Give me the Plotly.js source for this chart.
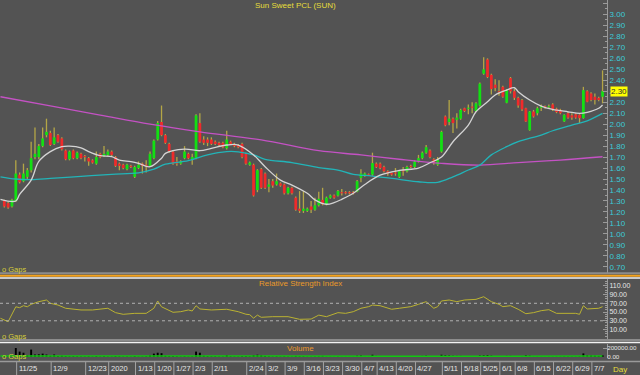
<!DOCTYPE html>
<html><head><meta charset="utf-8">
<script src="https://cdn.plot.ly/plotly-3.0.1.min.js"></script>
<style>html,body{margin:0;padding:0;background:#535353;overflow:hidden}#chart{width:640px;height:375px}</style>
</head><body><div id="chart"></div>
<script>
// ---- price data (one candle per trading day, index 0 = 19 Nov 2019) ----
const openP = [
1.30,1.28,1.25,1.30,1.54,1.48,1.52,1.58,1.70,1.70,
1.80,1.90,1.92,1.82,1.90,1.87,1.76,1.68,1.76,1.69,
1.73,1.71,1.69,1.67,1.64,1.73,1.71,1.72,1.75,1.70,
1.64,1.63,1.59,1.62,1.52,1.60,1.64,1.63,1.62,1.69,
1.86,2.02,1.90,1.82,1.75,1.66,1.64,1.69,1.73,1.68,
1.69,2.01,1.86,1.86,1.86,1.84,1.83,1.83,1.78,1.84,
1.82,1.81,1.82,1.73,1.63,1.63,1.40,1.59,1.55,1.43,
1.48,1.45,1.46,1.45,1.37,1.42,1.33,1.23,1.21,1.21,
1.25,1.22,1.26,1.31,1.27,1.33,1.35,1.35,1.38,1.38,
1.38,1.38,1.385,1.51,1.53,1.54,1.54,1.64,1.64,1.61,
1.57,1.555,1.56,1.52,1.58,1.57,1.62,1.61,1.66,1.69,
1.74,1.76,1.68,1.63,1.75,2.07,2.02,2.05,2.04,2.05,
2.145,2.14,2.16,2.12,2.17,2.46,2.59,2.45,2.36,2.30,
2.34,2.195,2.42,2.30,2.24,2.22,2.145,1.945,2.115,2.10,
2.15,2.16,2.155,2.18,2.14,2.13,2.025,2.10,2.08,2.09,
2.085,2.055,2.30,2.28,2.25,2.24,2.25];
const highP = [
1.31,1.29,1.32,1.67,1.56,1.64,1.60,1.84,1.97,1.82,
1.97,2.05,1.94,1.97,1.91,1.88,1.77,1.76,1.77,1.75,
1.74,1.72,1.70,1.68,1.75,1.74,1.80,1.77,1.76,1.71,
1.65,1.64,1.64,1.63,1.62,1.66,1.65,1.67,1.75,1.86,
2.03,2.17,1.91,1.83,1.76,1.70,1.67,1.80,1.74,1.73,
2.09,2.10,1.89,1.88,1.88,1.85,1.84,1.84,1.94,1.85,
1.83,1.82,1.83,1.74,1.66,1.64,1.59,1.60,1.56,1.50,
1.50,1.55,1.47,1.46,1.43,1.43,1.34,1.39,1.39,1.24,
1.30,1.33,1.385,1.42,1.34,1.36,1.36,1.40,1.41,1.39,
1.39,1.39,1.49,1.59,1.56,1.55,1.74,1.65,1.65,1.62,
1.58,1.56,1.60,1.58,1.61,1.62,1.63,1.67,1.72,1.75,
1.81,1.77,1.69,1.70,1.94,2.08,2.22,2.06,2.10,2.14,
2.15,2.18,2.20,2.20,2.38,2.61,2.60,2.46,2.41,2.40,
2.35,2.32,2.43,2.32,2.25,2.23,2.15,2.12,2.13,2.16,
2.18,2.17,2.18,2.19,2.15,2.14,2.09,2.11,2.10,2.10,
2.09,2.34,2.31,2.29,2.28,2.25,2.49];
const lowP = [
1.24,1.23,1.24,1.29,1.46,1.47,1.50,1.56,1.68,1.68,
1.79,1.88,1.80,1.81,1.83,1.76,1.67,1.67,1.68,1.68,
1.68,1.66,1.62,1.64,1.63,1.69,1.70,1.71,1.71,1.61,
1.58,1.59,1.58,1.60,1.51,1.59,1.55,1.56,1.61,1.68,
1.85,1.89,1.82,1.74,1.63,1.62,1.63,1.68,1.68,1.63,
1.68,1.83,1.81,1.80,1.81,1.81,1.80,1.78,1.77,1.81,
1.79,1.78,1.69,1.63,1.62,1.34,1.38,1.41,1.41,1.38,
1.42,1.44,1.43,1.36,1.36,1.36,1.21,1.19,1.19,1.20,
1.19,1.21,1.25,1.26,1.26,1.32,1.32,1.34,1.35,1.36,
1.36,1.36,1.38,1.47,1.52,1.53,1.53,1.60,1.59,1.56,
1.53,1.53,1.53,1.51,1.53,1.56,1.60,1.60,1.65,1.68,
1.73,1.69,1.63,1.62,1.74,1.98,1.99,1.92,1.96,2.04,
2.11,2.09,2.10,2.11,2.16,2.45,2.42,2.27,2.30,2.26,
2.24,2.19,2.28,2.22,2.15,2.12,2.02,1.94,2.06,2.08,
2.12,2.14,2.14,2.12,2.10,2.09,2.02,2.05,2.04,2.05,
2.01,2.05,2.20,2.21,2.18,2.21,2.19];
const closeP = [
1.25,1.24,1.31,1.55,1.47,1.55,1.58,1.69,1.73,1.80,
1.87,1.93,1.81,1.88,1.84,1.77,1.68,1.75,1.69,1.74,
1.69,1.70,1.66,1.65,1.70,1.70,1.73,1.75,1.72,1.62,
1.62,1.60,1.63,1.61,1.61,1.63,1.62,1.62,1.73,1.85,
2.01,1.90,1.83,1.75,1.64,1.64,1.66,1.75,1.69,1.70,
2.08,1.84,1.83,1.83,1.82,1.82,1.81,1.79,1.86,1.82,
1.80,1.79,1.70,1.64,1.65,1.35,1.58,1.42,1.42,1.45,
1.44,1.48,1.44,1.37,1.42,1.37,1.22,1.21,1.23,1.23,
1.22,1.26,1.32,1.27,1.33,1.35,1.33,1.39,1.37,1.37,
1.37,1.37,1.48,1.55,1.55,1.535,1.645,1.61,1.60,1.57,
1.55,1.54,1.55,1.57,1.57,1.61,1.61,1.66,1.69,1.74,
1.79,1.70,1.65,1.68,1.93,1.99,2.05,2.01,2.06,2.13,
2.12,2.15,2.15,2.19,2.37,2.50,2.43,2.32,2.33,2.29,
2.25,2.31,2.30,2.24,2.17,2.135,2.025,2.115,2.07,2.145,
2.165,2.155,2.16,2.13,2.11,2.10,2.085,2.06,2.06,2.06,
2.055,2.31,2.205,2.22,2.22,2.22,2.30];
const volume = [
20000,15000,25000,200000,120000,95000,40000,165000,55000,60000,
75000,55000,30000,55000,25000,30000,20000,15000,20000,15000,
10000,10000,15000,10000,20000,10000,15000,10000,10000,20000,
15000,10000,10000,8000,20000,10000,10000,15000,40000,75000,
95000,85000,30000,20000,25000,15000,10000,15000,10000,15000,
120000,95000,30000,20000,15000,15000,10000,10000,45000,15000,
10000,10000,20000,20000,15000,45000,50000,40000,25000,15000,
10000,15000,10000,15000,10000,10000,25000,20000,20000,10000,
10000,15000,20000,25000,10000,10000,8000,15000,10000,8000,
8000,8000,30000,35000,15000,10000,50000,25000,15000,15000,
10000,10000,15000,15000,10000,15000,10000,20000,15000,25000,
30000,20000,15000,15000,50000,40000,35000,30000,25000,25000,
15000,15000,20000,20000,35000,40000,45000,30000,20000,20000,
20000,25000,25000,15000,15000,20000,40000,30000,15000,15000,
10000,8000,8000,10000,10000,10000,15000,10000,10000,8000,
15000,80000,40000,35000,30000,25000,40000];

// ---- moving averages / indicator lines (day index, value) ----
const ma10Idx = [-1,3,4,7,9,12,15,17,20,22,25,28,30,33,35,38,41,42,47,51,54,58,61,65,68,72,75,79,81,84,86,88,91,94,98,103,108,111,114,117,121,123,126,128,131,133,134,137,140,143,147,150,152,155,156];
const ma10Val = [1.315,1.30,1.36,1.49,1.66,1.75,1.795,1.80,1.785,1.75,1.713,1.704,1.673,1.658,1.643,1.612,1.69,1.734,1.773,1.758,1.78,1.81,1.81,1.72,1.612,1.49,1.445,1.37,1.31,1.27,1.285,1.315,1.37,1.45,1.535,1.578,1.60,1.648,1.70,1.84,1.992,2.113,2.205,2.266,2.311,2.332,2.296,2.22,2.165,2.135,2.113,2.098,2.108,2.145,2.175];
const ma50Idx = [-1,3,7,12,20,28,35,39,42,48,53,58,61,65,68,75,82,87,91,96,103,108,113,117,121,124,127,131,134,140,143,148,152,156];
const ma50Val = [1.52,1.50,1.495,1.505,1.525,1.543,1.556,1.59,1.635,1.667,1.72,1.75,1.748,1.72,1.68,1.65,1.603,1.582,1.543,1.527,1.497,1.475,1.47,1.52,1.582,1.627,1.72,1.795,1.84,1.901,1.94,1.992,2.031,2.098];
const ma200Idx = [-1,12,25,38,51,67,82,93,103,114,124,134,145,156];
const ma200Val = [2.25,2.166,2.083,2.00,1.93,1.856,1.758,1.72,1.68,1.643,1.627,1.65,1.673,1.703];
const rsiIdx = [-1,1,3,4,5,6,7,9,11,12,14,16,20,23,27,29,31,34,37,39,40,41,44,46,48,49,50,51,54,58,61,63,64,65,66,67,70,74,77,80,82,84,87,89,91,93,95,96,98,101,103,106,108,110,112,113,114,116,118,120,123,125,127,129,130,132,134,136,138,140,142,144,149,150,151,152,155,156];
const rsiVal = [35.7,28,62,60,64.5,62,67.7,73.7,77.5,70,66,58.6,54.7,54.7,58.6,48.6,44.8,47,47,58.6,75.3,62,49.4,50.8,54.7,52.4,64.5,57,54.7,56.3,50.8,45,44,36,43,38,39.4,39.4,33.4,34,43,39.4,48.6,47,50.8,58.6,62.3,66,64.5,56.3,58.6,62.3,67.7,73.7,58.6,62.3,75.3,77.5,73.7,77.5,79,85,73.7,67.7,62.3,64.5,56.3,46.2,48.6,53.1,55.4,47,47,44.8,64.5,57,58.6,62.3];
const volMaIdx = [-1,20,45,70,100,130,156];
const volMaVal = [25000,28000,25000,20000,15000,18000,20000];

// ---- axis labels ----
const priceTicks = [0.70,0.80,0.90,1.00,1.10,1.20,1.30,1.40,1.50,1.60,1.70,1.80,1.90,2.00,2.10,2.20,2.30,2.40,2.50,2.60,2.70,2.80,2.90,3.00,3.10];
const rsiTicks = [10,30,50,70,90,110];
const volTicks = [0,200000];
const tickLabels = ['11/25','12/9','12/23','2020','1/13','1/20','1/27','2/3','2/11','2/24','3/2','3/9','3/16','3/23','3/30','4/7','4/13','4/20','4/27','5/11','5/18','5/25','6/1','6/8','6/15','6/22','6/29','7/7'];
const tickIdx = [4,13,22,28,35,40,45,50,55,64,69,74,79,84,89,94,98,103,108,115,120,125,130,134,139,144,149,154];

// ---- build ----
const W = 640, H = 375;
const px = v => v / W, py = v => 1 - v / H;
const FONT = "'Liberation Sans', Arial, sans-serif";
const idx = openP.map((_, i) => i);
const wickLen = idx.map(i => highP[i] - lowP[i]);
const bodyBase = idx.map(i => Math.min(openP[i], closeP[i]));
const bodyLen = idx.map(i => Math.max(Math.abs(closeP[i] - openP[i]), 0.008));
const bodyCol = idx.map(i => closeP[i] > openP[i] ? '#12e012' : (closeP[i] < openP[i] ? '#f02a2a' : '#b8aa48'));

const traces = [
  {type:'bar', x:idx, y:wickLen, base:lowP, width:0.34, marker:{color:'#b4a646', line:{width:0}}, xaxis:'x', yaxis:'y', hoverinfo:'skip'},
  {type:'bar', x:idx, y:bodyLen, base:bodyBase, width:0.72, marker:{color:bodyCol, line:{width:0}}, xaxis:'x', yaxis:'y', hoverinfo:'skip'},
  {type:'scatter', mode:'lines', x:ma200Idx, y:ma200Val, line:{color:'#c452c4', width:1.3, shape:'spline'}, xaxis:'x', yaxis:'y'},
  {type:'scatter', mode:'lines', x:ma50Idx, y:ma50Val, line:{color:'#22b4b8', width:1.3, shape:'spline'}, xaxis:'x', yaxis:'y'},
  {type:'scatter', mode:'lines', x:ma10Idx, y:ma10Val, line:{color:'#d4d4d4', width:1.3, shape:'spline'}, xaxis:'x', yaxis:'y'},
  {type:'scatter', mode:'lines', x:rsiIdx, y:rsiVal, line:{color:'#bab232', width:1}, xaxis:'x', yaxis:'y2'},
  {type:'bar', x:idx, y:volume, width:0.5, marker:{color:'#000000', line:{width:0}}, xaxis:'x', yaxis:'y3', hoverinfo:'skip'},
  {type:'scatter', mode:'lines', x:volMaIdx, y:volMaVal, line:{color:'#10c810', width:1.5}, xaxis:'x', yaxis:'y3'}
];

const axLine = '#9a9a9a';
const yCommon = {side:'right', anchor:'x', showgrid:false, zeroline:false, showline:true, linecolor:axLine, linewidth:1,
  ticks:'inside', ticklen:4, tickcolor:axLine, automargin:false, fixedrange:true};

const shapes = [];
tickIdx.forEach(t => shapes.push({type:'line', xref:'x', yref:'paper', x0:t-0.78, x1:t-0.78, y0:py(375), y1:py(362), line:{color:'#a4a4a4', width:1}}));
shapes.push({type:'rect', xref:'paper', yref:'paper', x0:0, x1:1, y0:py(274.3), y1:py(272.3), fillcolor:'#8c8c8c', line:{width:0}});
shapes.push({type:'line', xref:'paper', yref:'paper', x0:0, x1:1, y0:py(275.7), y1:py(275.7), line:{color:'#f4a21c', width:2}});
shapes.push({type:'line', xref:'paper', yref:'paper', x0:0, x1:1, y0:py(277.9), y1:py(277.9), line:{color:'#f2f2f2', width:1.5}});
shapes.push({type:'rect', xref:'paper', yref:'paper', x0:0, x1:1, y0:py(341), y1:py(339), fillcolor:'#8c8c8c', line:{width:0}});
shapes.push({type:'line', xref:'paper', yref:'paper', x0:0, x1:1, y0:py(342.6), y1:py(342.6), line:{color:'#f2f2f2', width:1.5}});
shapes.push({type:'line', xref:'paper', yref:'paper', x0:0, x1:1, y0:py(361.6), y1:py(361.6), line:{color:'#9a9a9a', width:1.5}});
[70,30].forEach(v => shapes.push({type:'line', xref:'paper', yref:'y2', x0:0, x1:px(607), y0:v, y1:v, line:{color:'#b0b0b0', width:1, dash:'dot'}}));

const annotations = [];
const ann = (o) => annotations.push(Object.assign({showarrow:false, xref:'paper', yref:'paper', borderpad:0}, o));
ann({x:px(295), y:1, yanchor:'top', text:'Sun Sweet PCL (SUN)', font:{family:FONT, size:8, color:'#e6de3a'}});
ann({x:px(300), y:py(283), yanchor:'middle', text:'Relative Strength Index', font:{family:FONT, size:8, color:'#ea9a2a'}});
ann({x:px(300), y:py(348.5), yanchor:'middle', text:'Volume', font:{family:FONT, size:8, color:'#ea9a2a'}});
[269.5, 336, 356.5].forEach(y => ann({x:px(0.5), xanchor:'left', y:py(y), yanchor:'middle', text:'o Gaps', font:{family:FONT, size:7.5, color:'#d6ce3a'}}));
tickLabels.forEach((t, k) => ann({xref:'x', x:tickIdx[k]-0.78, xanchor:'left', xshift:1, y:py(368.5), yanchor:'middle', text:t, font:{family:FONT, size:7.5, color:'#e6e6e6'}}));
ann({x:px(628), y:py(369), yanchor:'middle', text:'Day', font:{family:FONT, size:8, color:'#e6de3a'}});
const last = closeP[closeP.length - 1];
ann({x:px(610), xanchor:'left', yref:'y', y:last, yanchor:'middle', text:last.toFixed(2), bgcolor:'#ffff00', font:{family:FONT, size:8, color:'#303030'}});

const layout = {
  width:W, height:H, margin:{l:0, r:0, t:0, b:0, pad:0},
  paper_bgcolor:'#535353', plot_bgcolor:'#535353', showlegend:false, barmode:'overlay',
  font:{family:FONT, size:8, color:'#e0e0e0'},
  xaxis:{domain:[0, px(607)], range:[-1.121, 157.16], showticklabels:false, showgrid:false, zeroline:false, showline:false, ticks:'', fixedrange:true},
  yaxis:Object.assign({}, yCommon, {domain:[py(273), 1], range:[0.6433, 3.1319], tickvals:priceTicks, ticktext:priceTicks.map(v => v.toFixed(2)),
    tickfont:{family:FONT, size:8, color:'#3ccbd8'}, minor:{ticks:'inside', ticklen:2, tickcolor:axLine, dtick:0.05}}),
  yaxis2:Object.assign({}, yCommon, {domain:[py(339), py(279)], range:[-11.6, 125.5], tickvals:rsiTicks, ticktext:rsiTicks.map(v => v.toFixed(2)),
    tickfont:{family:FONT, size:7, color:'#e6e6e6'}, minor:{ticks:'inside', ticklen:2, tickcolor:axLine, dtick:5}}),
  yaxis3:Object.assign({}, yCommon, {domain:[py(358), py(344)], range:[-22222, 288889], tickvals:volTicks, ticktext:volTicks.map(v => v.toFixed(2)),
    tickfont:{family:FONT, size:6.2, color:'#e6e6e6'}, ticklabelstandoff:-2}),
  shapes:shapes, annotations:annotations
};

Plotly.newPlot('chart', traces, layout, {displayModeBar:false, staticPlot:true});
</script>
</body></html>
